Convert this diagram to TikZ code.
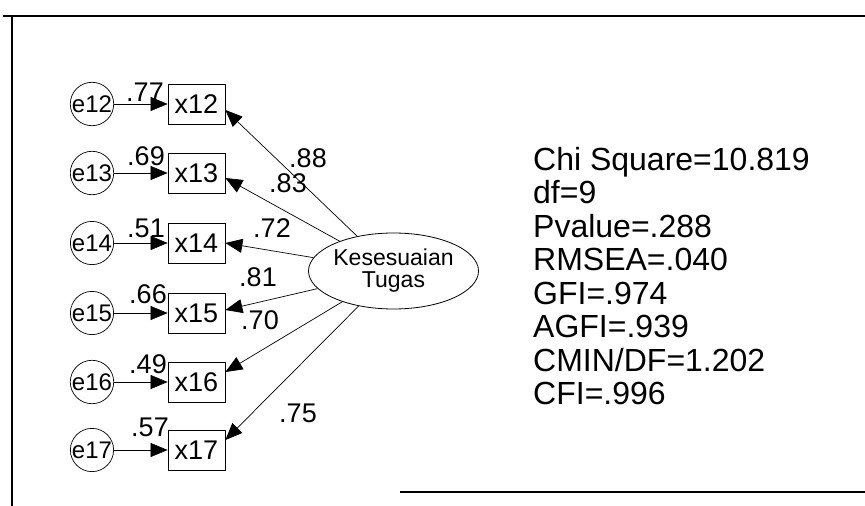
\documentclass[tikz,border=0pt]{standalone}
\usepackage{fontspec}
\setmainfont{Liberation Sans}
\usetikzlibrary{arrows.meta,shapes.geometric}
\begin{document}
\begin{tikzpicture}[x=1pt,y=-1pt,
  errc/.style={circle,draw,line width=0.7pt,minimum size=38pt,inner sep=0pt,font=\fontsize{24}{24}\selectfont},
  obs/.style={rectangle,draw,line width=0.8pt,minimum width=57pt,minimum height=40pt,inner sep=0pt,font=\fontsize{27}{27}\selectfont},
  lat/.style={ellipse,draw,line width=0.8pt,minimum width=137pt,minimum height=76pt,inner sep=0pt,align=center,font=\fontsize{23}{22}\selectfont},
  lbl/.style={font=\fontsize{27}{27}\selectfont,inner sep=0pt},
  arr/.style={-{Triangle[length=17pt,width=14pt]},line width=0.7pt},
  earr/.style={-{Triangle[length=17pt,width=14pt]},line width=0.5pt},
  stat/.style={font=\fontsize{32}{32}\selectfont,anchor=base west,inner sep=0pt},
  frame/.style={line width=2.5pt}]
\useasboundingbox (0,0) rectangle (865,506);
\fill[white] (0,0) rectangle (865,506);
% frame
\coordinate (f1) at (3,16);
\coordinate (f2) at (865,16);
\coordinate (f3) at (12,16);
\coordinate (f4) at (12,506);
\coordinate (f5) at (400,492);
\coordinate (f6) at (865,492);
\draw[frame] (f1) -- (f2);
\draw[frame] (f3) -- (f4);
\draw[frame] (f5) -- (f6);
% latent
\node[lat] (lat) at (393.5,271) {Kesesuaian\\Tugas};
% indicators
\foreach \i/\y/\s in {12/104/-6,13/173/-5,14/243/0,15/313/3,16/382/10,17/450/10}{
  \node[errc] (e\i) at (92,\y) {e\i};
  \node[obs] (x\i) at (196.5,\y) {x\i};
  \coordinate (t\i) at ([yshift=\s pt]x\i.east);
  \draw[earr] (e\i) -- (x\i);
  \draw[arr] (lat) -- (t\i);
}
% squared multiple correlations
\node[lbl] (r12) at (145,92) {.77};
\node[lbl] (r13) at (146,156) {.69};
\node[lbl] (r14) at (146,228) {.51};
\node[lbl] (r15) at (148,294) {.66};
\node[lbl] (r16) at (148,364) {.49};
\node[lbl] (r17) at (150,427) {.57};
% loadings
\node[lbl] (l88) at (308,158) {.88};
\node[lbl] (l83) at (288,183) {.83};
\node[lbl] (l72) at (272,228) {.72};
\node[lbl] (l81) at (258,277) {.81};
\node[lbl] (l70) at (260,320) {.70};
\node[lbl] (l75) at (298,413) {.75};
% fit statistics
\node[stat] (s1) at (533,170) {Chi Square=10.819};
\node[stat] (s2) at (533,203.5) {df=9};
\node[stat] (s3) at (533,237) {Pvalue=.288};
\node[stat] (s4) at (533,270.5) {RMSEA=.040};
\node[stat] (s5) at (533,304) {GFI=.974};
\node[stat] (s6) at (533,337.5) {AGFI=.939};
\node[stat] (s7) at (533,371) {CMIN/DF=1.202};
\node[stat] (s8) at (533,404.5) {CFI=.996};
\end{tikzpicture}
\end{document}
